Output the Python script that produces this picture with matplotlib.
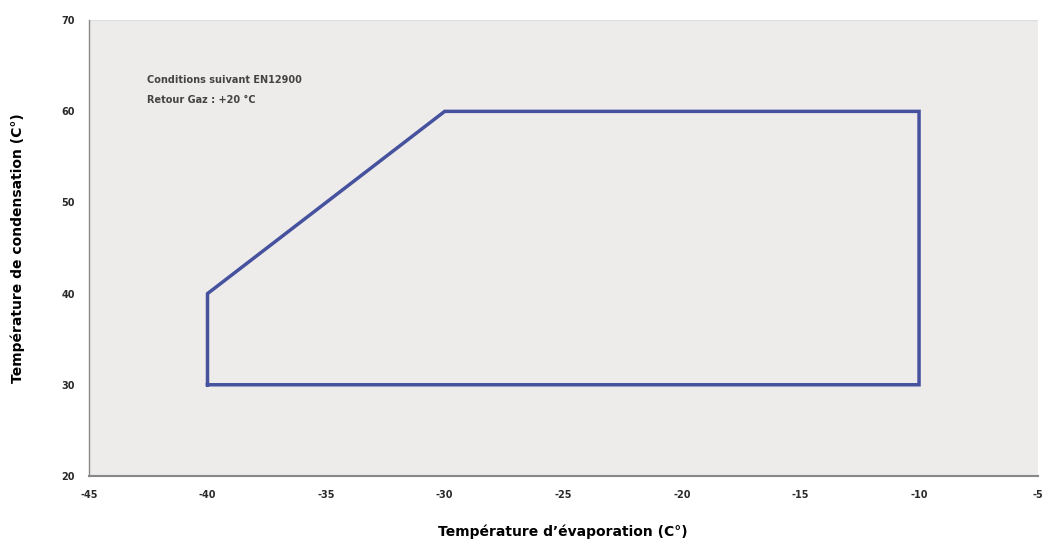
import matplotlib
matplotlib.use("Agg")
import matplotlib.pyplot as plt

plt.rcParams["axes.unicode_minus"] = False

# enveloppe de fonctionnement
t_evap = [-40, -40, -30, -10, -10, -40]
t_cond = [30, 40, 60, 60, 30, 30]

x_ticks = [-45, -40, -35, -30, -25, -20, -15, -10, -5]
y_ticks = [20, 30, 40, 50, 60, 70]

fig = plt.figure(figsize=(10.46, 5.47), dpi=100)
ax = fig.add_axes([0.085, 0.130, 0.907, 0.833])
ax.set_facecolor("#edecea")

ax.plot(t_evap, t_cond, color="#46529e", linewidth=2.5, solid_joinstyle="miter")

ax.set_xlim(-45, -5)
ax.set_ylim(20, 70)
ax.set_xticks(x_ticks)
ax.set_yticks(y_ticks)
ax.tick_params(length=0, pad=10, labelsize=7, colors="#2a2a2a")
for lab in ax.get_xticklabels() + ax.get_yticklabels():
    lab.set_fontweight("bold")

for side in ["top", "right"]:
    ax.spines[side].set_visible(False)
ax.spines["left"].set_color("#888888")
ax.spines["bottom"].set_color("#888888")
ax.spines["left"].set_linewidth(1.0)
ax.spines["bottom"].set_linewidth(1.5)
ax.axhline(70, color="#dddddd", linewidth=0.8)

ax.text(-42.55, 63.4, "Conditions suivant EN12900", fontsize=7, fontweight="bold",
        color="#444444", va="center")
ax.text(-42.55, 61.2, "Retour Gaz : +20 °C", fontsize=7, fontweight="bold",
        color="#444444", va="center")

ax.set_xlabel("Température d’évaporation (C°)", fontsize=10, fontweight="bold",
              labelpad=18)
ax.set_ylabel("Température de condensation (C°)", fontsize=10, fontweight="bold",
              labelpad=26)

fig.savefig("out.png", dpi=100)
